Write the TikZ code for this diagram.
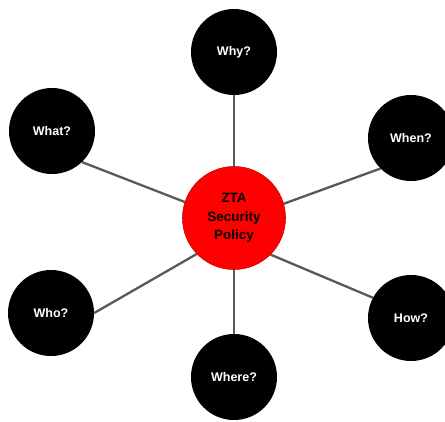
\documentclass[tikz,border=0pt]{standalone}
\usepackage{fontspec}
\setmainfont{Liberation Sans}
\usetikzlibrary{backgrounds}
\begin{document}
\begin{tikzpicture}[x=1pt,y=-1pt,
  outer/.style={circle,fill=black,minimum size=86pt,inner sep=0pt,
    text=white,font=\bfseries\fontsize{12.5}{15}\selectfont},
  hub/.style={circle,fill=red,draw=red!80!black,line width=0.6pt,minimum size=103pt,inner sep=0pt,
    text=black,align=center,font=\bfseries\fontsize{13.5}{18.5}\selectfont},
  spoke/.style={draw=black!65,line width=2.3pt}]
\useasboundingbox (0,0) rectangle (445,421);
\clip (0,0) rectangle (445,421);
% question circles around the policy hub
\node[outer] (why)   at (234,52)  {Why?};
\node[outer] (what)  at (52,131)  {What?};
\node[outer] (when)  at (411,138) {When?};
\node[outer] (who)   at (51,313)  {Who?};
\node[outer] (how)   at (411,318) {How?};
\node[outer] (where) at (234,377) {Where?};
\node[hub] (zta) at (234,218) {ZTA\\Security\\Policy};
% spokes behind the circles
\begin{scope}[on background layer]
  \fill[white] (0,0) rectangle (445,421);
  \path[spoke] (zta.90)  -- (why.270);
  \path[spoke] (zta.162) -- (what.-46);
  \path[spoke] (zta.16)  -- (when.225);
  \path[spoke] (zta.224) -- (who.0);
  \path[spoke] (zta.-45) -- (how.152);
  \path[spoke] (zta.270) -- (where.90);
\end{scope}
\end{tikzpicture}
\end{document}
